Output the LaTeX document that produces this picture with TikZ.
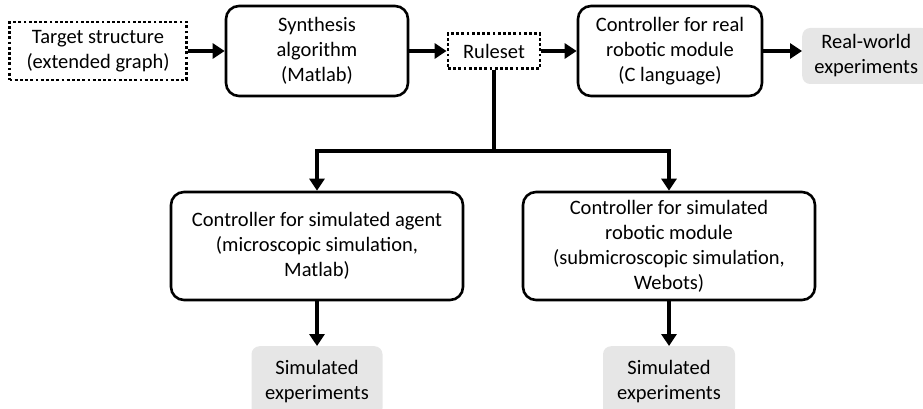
\documentclass[tikz,border=0pt]{standalone}
\usepackage{fontspec}
\setmainfont{Carlito}
\usepackage{tikz}
\usetikzlibrary{arrows.meta,positioning,calc}
\definecolor{fdedge}{RGB}{0,0,0}
\definecolor{fdexp}{RGB}{230,230,230}
\tikzset{
  fdbox/.style={
    draw=fdedge, line width=2.6pt, rounded corners=13pt,
    align=center, inner sep=0pt, font=\fontsize{20.5}{25}\selectfont
  },
  proc/.style={fdbox, fill=white},
  dotbox/.style={
    fdbox, rounded corners=0pt, line width=2.8pt,
    dash pattern=on 2.8pt off 2.4pt
  },
  expbox/.style={
    fill=fdexp, rounded corners=8pt, align=center, inner sep=0pt,
    font=\fontsize{20.5}{25}\selectfont
  },
  arr/.style={-{Triangle[length=12pt,width=15pt]}, draw=fdedge, line width=4pt},
  trunk/.style={draw=fdedge, line width=4pt}
}
\begin{document}
\begin{tikzpicture}[x=1pt,y=-1pt]
  \useasboundingbox (0,0) rectangle (923,409);
  % top row
  \node[dotbox, minimum width=177pt, minimum height=58pt] (target) at (98,51)
    {Target structure\\(extended graph)};
  \node[proc, minimum width=182pt, minimum height=90pt] (synth) at (317,51)
    {Synthesis\\algorithm\\(Matlab)};
  \node[dotbox, minimum width=92pt, minimum height=35pt] (rules) at (494,51)
    {Ruleset};
  \node[proc, minimum width=184pt, minimum height=90pt] (realctl) at (670,51)
    {Controller for real\\robotic module\\(C language)};
  \node[expbox, anchor=west, minimum width=128pt, minimum height=56pt] (realexp) at (802,56)
    {Real-world\\experiments};
  % simulated controllers
  \node[proc, minimum width=292pt, minimum height=108pt] (agentctl) at (317,246)
    {Controller for simulated agent\\(microscopic simulation,\\Matlab)};
  \node[proc, minimum width=292pt, minimum height=108pt] (modctl) at (669,246)
    {Controller for simulated\\robotic module\\(submicroscopic simulation,\\Webots)};
  \node[expbox, anchor=north, minimum width=131pt, minimum height=70pt] (agentexp) at (317,346)
    {Simulated\\experiments};
  \node[expbox, anchor=north, minimum width=132pt, minimum height=70pt] (modexp) at (669,346)
    {Simulated\\experiments};
  \coordinate (split) at (494,151);

  \draw[arr] (target) -- (synth);
  \draw[arr] (synth) -- (rules);
  \draw[arr] (rules) -- (realctl);
  \draw[arr] (realctl.east) -- (realctl.east -| realexp.west);
  \draw[trunk] (rules.south) -- (split);
  \draw[arr] ($(split)+(2,0)$) -| (agentctl.north);
  \draw[arr] ($(split)-(2,0)$) -| (modctl.north);
  \draw[arr] (agentctl) -- (agentexp);
  \draw[arr] (modctl) -- (modexp);
\end{tikzpicture}
\end{document}
